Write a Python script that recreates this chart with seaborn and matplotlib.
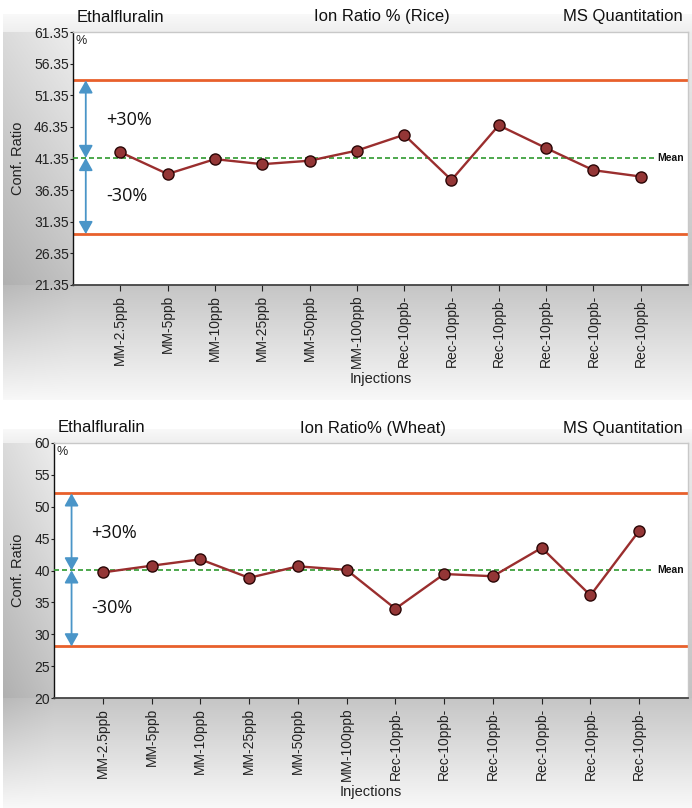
import numpy as np
import pandas as pd
import matplotlib
matplotlib.use("Agg")
import matplotlib.pyplot as plt
import seaborn as sns

# ---- data -------------------------------------------------------------
injections = ["MM-2.5ppb", "MM-5ppb", "MM-10ppb", "MM-25ppb", "MM-50ppb", "MM-100ppb",
              "Rec-10ppb-", "Rec-10ppb-", "Rec-10ppb-", "Rec-10ppb-", "Rec-10ppb-", "Rec-10ppb-"]

rice_ratio = [42.35, 38.9, 41.25, 40.45, 41.0, 42.6, 45.1, 37.95, 46.6, 43.0, 39.5, 38.5]
rice_upper = 53.7
rice_lower = 29.4
rice_ticks = [21.35, 26.35, 31.35, 36.35, 41.35, 46.35, 51.35, 56.35, 61.35]

wheat_ratio = [39.7, 40.75, 41.75, 38.85, 40.65, 40.1, 34.0, 39.45, 39.1, 43.55, 36.1, 46.25]
wheat_upper = 52.1
wheat_lower = 28.1
wheat_ticks = [20, 25, 30, 35, 40, 45, 50, 55, 60]

compound = "Ethalfluralin"
rice_title = "Ion Ratio % (Rice)"
wheat_title = "Ion Ratio% (Wheat)"
method = "MS Quantitation"

# ---- style ------------------------------------------------------------
sns.set_theme(style="white")
plt.rcParams["font.family"] = ["Liberation Sans", "DejaVu Sans"]

W, H = 692, 808
fig = plt.figure(figsize=(W / 100, H / 100), dpi=100)

# panel geometry in pixels: (panel_top, panel_bottom, ax_left, ax_top, ax_right, ax_bottom)
panels = [
    (14, 400, 73, 32, 688, 285),
    (429, 808, 54, 443, 688, 698),
]

# ---- gradient backdrop --------------------------------------------------
bg = np.ones((H, W))
x0 = 3
for (py0, py1, L, T, R, B) in panels:
    # title strip
    for y in range(py0, T):
        bg[y, x0:] = 0.975 - 0.04 * (y - py0) / max(T - py0, 1)
    # strip left of the plot area
    ty = (np.arange(T, B) - T) / (B - T)
    tx = (np.arange(x0, L) - x0) / (L - x0)
    bg[T:B, x0:L] = 0.93 - 0.17 * ty[:, None] - 0.07 * (1 - tx[None, :])
    bg[T:B, R:] = (0.93 - 0.17 * ty)[:, None]
    # strip below the plot area
    tb = (np.arange(B, py1) - B) / (py1 - B)
    bg[B:py1, x0:] = (0.775 + 0.20 * tb)[:, None]
    bg[B:py1, x0:L] -= 0.05 * (1 - tb)[:, None] * (1 - tx[None, :])

bg_ax = fig.add_axes([0, 0, 1, 1], zorder=-10)
bg_ax.imshow(np.dstack([bg, bg, bg]), aspect="auto", interpolation="nearest")
bg_ax.axis("off")


def px_rect(L, T, R, B):
    return [L / W, 1 - B / H, (R - L) / W, (B - T) / H]


def draw_panel(geom, values, upper, lower, ticks, title, arrow_x, label_x, plus_y, minus_y):
    py0, py1, L, T, R, B = geom
    ax = fig.add_axes(px_rect(L, T, R, B))
    ax.set_facecolor("white")
    mean = float(np.mean(values))
    pos = np.arange(len(values))

    # control limits and mean
    ax.axhline(upper, color="#e8602c", lw=2.0, zorder=2)
    ax.axhline(lower, color="#e8602c", lw=2.0, zorder=2)
    ax.plot([-1, 11.3], [mean, mean], color="#2f9a2f", lw=1.2, ls=(0, (3.0, 1.8)), zorder=3)
    ax.text(11.36, mean, "Mean", fontsize=7.5, fontweight="bold", va="center", ha="left",
            color="#111111")

    # +/- 30% arrows
    astyle = "<|-|>,head_length=0.5,head_width=0.28"
    for y_a, y_b in [(upper, mean), (mean, lower)]:
        ax.annotate("", xy=(arrow_x, y_a), xytext=(arrow_x, y_b),
                    arrowprops=dict(arrowstyle=astyle, color="#4a95c8", lw=1.3,
                                    mutation_scale=15, shrinkA=0, shrinkB=0))
    ax.text(label_x, plus_y, "+30%", fontsize=13, family=["Open Sans", "DejaVu Sans"],
            va="center", ha="left", color="#111111")
    ax.text(label_x, minus_y, "-30%", fontsize=13, family=["Open Sans", "DejaVu Sans"],
            va="center", ha="left", color="#111111")

    # injection series
    df = pd.DataFrame({"pos": pos, "ratio": values})
    sns.lineplot(data=df, x="pos", y="ratio", ax=ax, color="#9a2e2e", lw=1.7,
                 marker="o", markersize=8, markerfacecolor="#943636",
                 markeredgecolor="#2a0606", markeredgewidth=1.0, zorder=5)

    ax.set_xlim(-1, 12)
    ax.set_ylim(ticks[0], ticks[-1])
    ax.set_yticks(ticks)
    ax.set_yticklabels([f"{t:g}" if float(t).is_integer() else f"{t:.2f}" for t in ticks])
    ax.set_xticks(pos)
    ax.set_xticklabels(injections, rotation=90)
    ax.tick_params(axis="y", direction="out", length=2, width=0.8, pad=1,
                   labelsize=10, colors="#222222", left=True)
    ax.tick_params(axis="x", direction="out", length=4, width=0.8, pad=3,
                   labelsize=10, colors="#222222", bottom=True)

    for side in ["top", "right"]:
        ax.spines[side].set_color("#c8c8c8")
        ax.spines[side].set_linewidth(1.0)
    ax.spines["left"].set_color("#111111")
    ax.spines["left"].set_linewidth(1.0)
    ax.spines["bottom"].set_color("#444444")
    ax.spines["bottom"].set_linewidth(1.3)

    ax.set_ylabel("Conf. Ratio", fontsize=10.5, color="#222222")
    ax.yaxis.set_label_coords((18 - L) / (R - L), 0.5)
    ax.yaxis.label.set_va("center")
    ax.set_xlabel("Injections", fontsize=10.5, color="#222222")
    ax.xaxis.set_label_coords(0.5, -94 / (B - T))
    ax.xaxis.label.set_va("center")

    ax.text(0.004, 0.99, "%", transform=ax.transAxes, fontsize=9, va="top", ha="left",
            color="#222222")

    # header line
    ty = 1 - (T - 15) / H
    fig.text((L + 4) / W, ty, compound, fontsize=12, ha="left", va="center", color="#111111")
    fig.text(0.5 * (L + R + 3) / W, ty, title, fontsize=12, ha="center", va="center",
             color="#111111")
    fig.text(683 / W, ty, method, fontsize=12, ha="right", va="center", color="#111111")
    return ax


draw_panel(panels[0], rice_ratio, rice_upper, rice_lower, rice_ticks, rice_title,
           arrow_x=-0.73, label_x=-0.29, plus_y=47.36, minus_y=35.35)
draw_panel(panels[1], wheat_ratio, wheat_upper, wheat_lower, wheat_ticks, wheat_title,
           arrow_x=-0.64, label_x=-0.24, plus_y=45.94, minus_y=34.1)

fig.savefig("out.png", dpi=100)
